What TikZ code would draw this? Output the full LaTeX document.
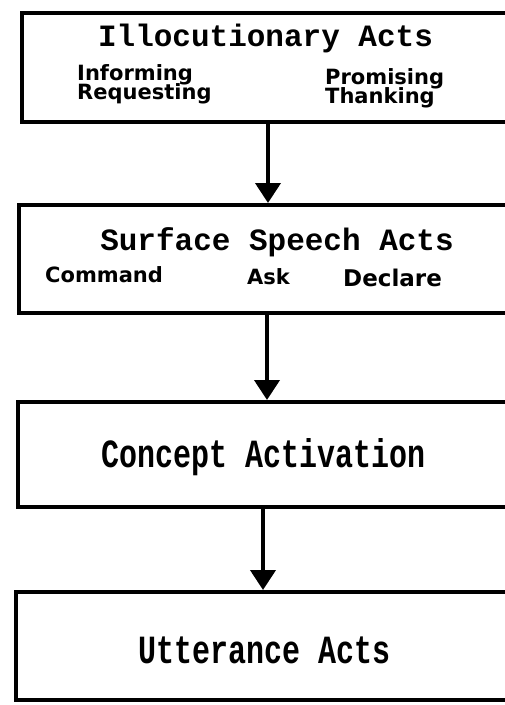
\documentclass[tikz,border=0pt]{standalone}
\usepackage{fontspec}
\setmainfont{DejaVu Sans}
\setmonofont{Liberation Mono}
\newfontfamily\tallmono{Liberation Mono}[FakeStretch=0.75]
\usetikzlibrary{arrows.meta,positioning}

\begin{document}
\begin{tikzpicture}[x=1pt,y=1pt,
    stage/.style = {draw,line width=4pt,inner sep=0pt},
    heading/.style = {anchor=base,inner sep=0pt,font=\fontsize{31}{31}\selectfont\ttfamily\bfseries},
    tallheading/.style = {anchor=base,inner sep=0pt,font=\fontsize{40}{40}\selectfont\tallmono\bfseries},
    act/.style = {anchor=base west,inner sep=0pt,font=\fontsize{21}{21}\selectfont\bfseries},
    arrow/.style = {line width=4pt,-{Triangle[width=25pt,length=20pt]}}]
    \useasboundingbox (0,0) rectangle (505,-705);

    % the four stages
    \node[stage,minimum width=492pt,minimum height=109pt] (illoc)   at (268,-67.5) {};
    \node[stage,minimum width=496pt,minimum height=108pt] (surface) at (267,-259)  {};
    \node[stage,minimum width=490pt,minimum height=105pt] (concept) at (263,-454.5) {};
    \node[stage,minimum width=494pt,minimum height=108pt] (utter)   at (263,-646)  {};

    % headings
    \node[heading] (illoctitle)   at (265.5,-46) {Illocutionary Acts};
    \node[heading] (surfacetitle) at (277,-250)  {Surface Speech Acts};
    \node[tallheading] (concepttitle) at (264,-467) {Concept Activation};
    \node[tallheading] (uttertitle)   at (265,-663) {Utterance Acts};

    % kinds of acts
    \node[act] (inform)  at (77,-80)   {Informing};
    \node[act] (request) at (77,-99)   {Requesting};
    \node[act] (promise) at (325,-84)  {Promising};
    \node[act] (thank)   at (325,-103) {Thanking};
    \node[act] (command) at (45,-282)  {Command};
    \node[act] (ask)     at (247,-284) {Ask};
    \node[act,font=\fontsize{23}{23}\selectfont\bfseries] (declare) at (343,-286) {Declare};

    \draw[arrow] (illoc.south) -- (illoc.south |- surface.north);
    \draw[arrow] (surface.south) -- (surface.south |- concept.north);
    \draw[arrow] (concept.south) -- (concept.south |- utter.north);
\end{tikzpicture}
\end{document}
